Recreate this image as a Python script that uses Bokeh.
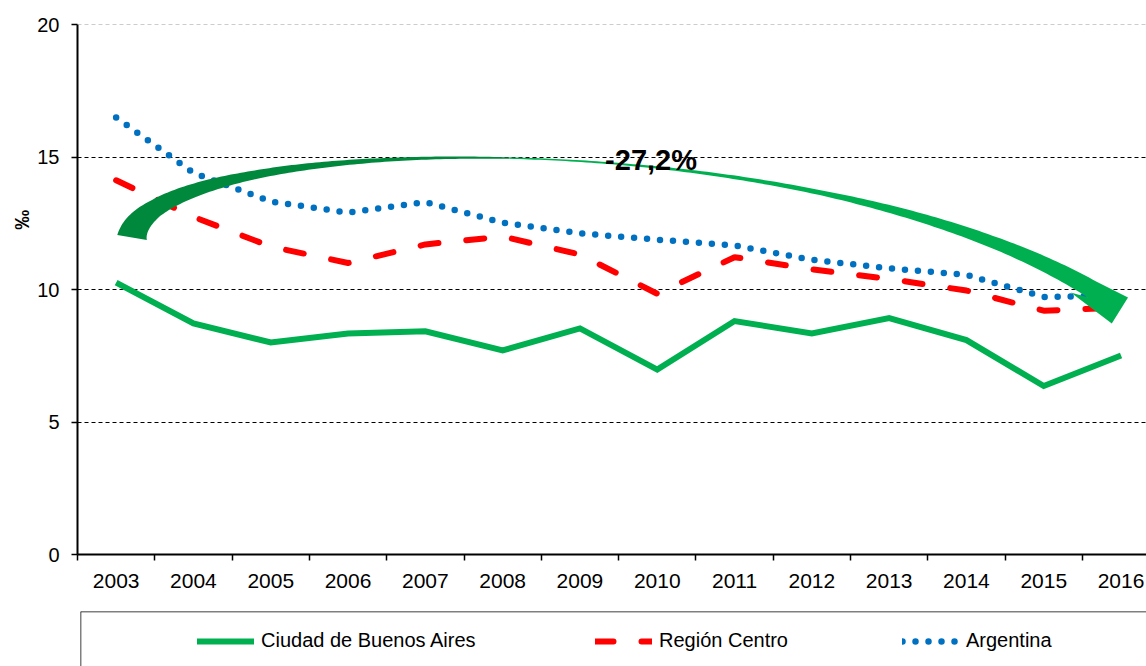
import numpy as np
from bokeh.plotting import figure
from bokeh.models import (Range1d, LinearAxis, FixedTicker, Span, Label, Legend,
                          LegendItem, Grid, CustomJSTickFormatter)
from bokeh.layouts import column, row
from bokeh.embed import file_html
from bokeh.resources import INLINE

# ---------------- data ----------------
years = ["2003", "2004", "2005", "2006", "2007", "2008", "2009",
         "2010", "2011", "2012", "2013", "2014", "2015", "2016"]
ciudad = [10.26, 8.72, 8.00, 8.34, 8.42, 7.70, 8.53, 6.98, 8.81, 8.34, 8.92, 8.09, 6.36, 7.51]
centro = [14.12, 12.74, 11.62, 11.00, 11.70, 12.00, 11.32, 9.84, 11.22, 10.76, 10.40, 9.96, 9.20, 9.32]
argentina = [16.49, 14.40, 13.32, 12.90, 13.30, 12.52, 12.12, 11.88, 11.66, 11.12, 10.80, 10.55, 9.72, 9.76]
y_ticks = [0, 5, 10, 15, 20]
grid_ticks = [5, 10, 15]
series_names = ["Ciudad de Buenos Aires", "Región Centro", "Argentina"]
change_text = "-27,2%"
unit_text = "‰"

# ---------------- styles ----------------
FONT = "Liberation Sans"
GREEN = "#00B050"
GREEN_DARK = "#00893C"
RED = "#FF0000"
BLUE = "#0070C0"

# left strip holding the unit label
UW, H = 34, 600
uf = figure(width=UW, height=H, x_range=Range1d(0, UW), y_range=Range1d(0, H),
            output_backend="svg", toolbar_location=None, x_axis_type=None, y_axis_type=None,
            min_border_left=0, min_border_right=0, min_border_top=0, min_border_bottom=0,
            outline_line_color=None, background_fill_color="white", border_fill_color="white")
uf.add_layout(Label(x=21, y=H - 221, text=unit_text, angle=np.pi / 2, text_font=FONT,
                    text_font_style="bold", text_font_size="20px", text_color="black",
                    text_align="center", text_baseline="middle"))

W = 1146 - UW
BL, BR, BT, BB = 77 - UW, 0, 24, 46
frame_w = W - BL - BR
px_per_cat = 77.3
x_end = frame_w / px_per_cat

p = figure(width=W, height=H, x_range=Range1d(0, x_end), y_range=Range1d(0, 20),
           output_backend="svg", toolbar_location=None,
           x_axis_type=None, y_axis_type=None,
           min_border_left=BL, min_border_right=BR, min_border_top=BT, min_border_bottom=BB,
           outline_line_color=None, background_fill_color="white", border_fill_color="white")

# axes
yaxis = LinearAxis(ticker=FixedTicker(ticks=y_ticks),
                   major_tick_out=6, major_tick_in=0, minor_tick_out=0, minor_tick_in=0,
                   axis_line_width=2, axis_line_color="black",
                   major_tick_line_width=1.5, major_tick_line_color="black",
                   major_label_text_font=FONT, major_label_text_font_size="20px",
                   major_label_text_color="black", major_label_standoff=12)
p.add_layout(yaxis, "left")

n = len(years)
xaxis = LinearAxis(ticker=FixedTicker(ticks=[i + 0.5 for i in range(n)],
                                      minor_ticks=list(range(n + 1))),
                   formatter=CustomJSTickFormatter(args=dict(labels=years),
                                                   code="return labels[Math.floor(tick)] || ''"),
                   major_tick_out=0, major_tick_in=0, minor_tick_out=6, minor_tick_in=0,
                   axis_line_width=2, axis_line_color="black",
                   minor_tick_line_width=1.5, minor_tick_line_color="black",
                   major_label_text_font=FONT, major_label_text_font_size="21px",
                   major_label_text_color="black", major_label_standoff=13)
p.add_layout(xaxis, "below")

p.add_layout(Grid(dimension=1, ticker=FixedTicker(ticks=grid_ticks),
                  grid_line_color="black", grid_line_dash="4 3", grid_line_width=1))
p.add_layout(Span(location=20, dimension="width", line_color="#9A9A9A",
                  line_dash="4 3", line_width=1))

# series
x = np.arange(n) + 0.5
p.line(x, centro, line_color=RED, line_width=6, line_dash="18 28", line_cap="round")
p.line(x, argentina, line_color=BLUE, line_width=6.5, line_dash="0 13", line_cap="round")
p.line(x, ciudad, line_color=GREEN, line_width=6, line_join="miter")

# ---------------- curved arrow annotation ----------------
SX, SY = px_per_cat, 530 / 20.0
ARROW_CTRL = np.array([(0.706, 11.96), (0.94, 16.0), (9.347, 16.57), (13.125, 10.0)])
ARROW_T = [0, 0.1, 0.25, 0.4, 0.5, 0.6, 0.75, 0.9, 1.0]
ARROW_W = [30, 18, 9, 3.5, 1.5, 2, 5, 12, 18]
ARROW_HEAD = np.array([(13.59, 9.70), (13.38, 8.72), (12.85, 9.89)])

P = ARROW_CTRL * [SX, SY]
t = np.linspace(0, 1, 241)[:, None]
B = ((1 - t) ** 3) * P[0] + 3 * ((1 - t) ** 2) * t * P[1] + 3 * (1 - t) * t ** 2 * P[2] + t ** 3 * P[3]
D = 3 * ((1 - t) ** 2) * (P[1] - P[0]) + 6 * (1 - t) * t * (P[2] - P[1]) + 3 * t ** 2 * (P[3] - P[2])
D = D / np.linalg.norm(D, axis=1)[:, None]
N = np.column_stack([-D[:, 1], D[:, 0]])
wv = np.interp(t[:, 0], ARROW_T, ARROW_W)[:, None]
upper = (B + N * wv / 2) / [SX, SY]
lower = (B - N * wv / 2) / [SX, SY]
k = 120
left_poly = np.vstack([upper[:k + 1], lower[:k + 1][::-1]])
right_poly = np.vstack([upper[k:], ARROW_HEAD, lower[k:][::-1]])
p.patch(left_poly[:, 0], left_poly[:, 1], fill_color=GREEN_DARK, line_color=None)
p.patch(right_poly[:, 0], right_poly[:, 1], fill_color=GREEN, line_color=None)

p.add_layout(Label(x=7.42, y=14.9, text=change_text, text_font=FONT, text_font_style="bold",
                   text_font_size="29px", text_color="black",
                   text_align="center", text_baseline="middle"))

# ---------------- legend panel ----------------
LW, LH = 1146, 66
lp = figure(width=LW, height=LH, x_range=Range1d(0, 1), y_range=Range1d(0, 1),
            output_backend="svg", toolbar_location=None,
            x_axis_type=None, y_axis_type=None,
            min_border_left=80, min_border_right=0, min_border_top=11, min_border_bottom=0,
            outline_line_color=None, background_fill_color="white", border_fill_color="white")
lp.add_layout(Span(location=1, dimension="width", line_color="black", line_width=1.5))
lp.add_layout(Span(location=0, dimension="height", line_color="black", line_width=1.5))

nan_pt = np.array([np.nan])
r_c = lp.line(x=nan_pt, y=nan_pt, line_color=GREEN, line_width=6, line_cap="round")
r_r = lp.line(x=nan_pt, y=nan_pt, line_color=RED, line_width=6, line_dash="18 28", line_cap="round")
r_a = lp.line(x=nan_pt, y=nan_pt, line_color=BLUE, line_width=6.5, line_dash="0 13", line_cap="round")

for name, rend, xloc in zip(series_names, [r_c, r_r, r_a], [117, 515, 822]):
    lg = Legend(items=[LegendItem(label=name, renderers=[rend])], location=(xloc, 14),
                glyph_width=57, glyph_height=20, label_standoff=7,
                label_text_font=FONT, label_text_font_size="20px", label_text_color="black",
                padding=0, margin=0, spacing=0, border_line_alpha=0, background_fill_alpha=0)
    lp.add_layout(lg, "center")

layout = column(row(uf, p, spacing=0), lp, spacing=0)
open("out.html", "w").write(file_html(layout, INLINE))
